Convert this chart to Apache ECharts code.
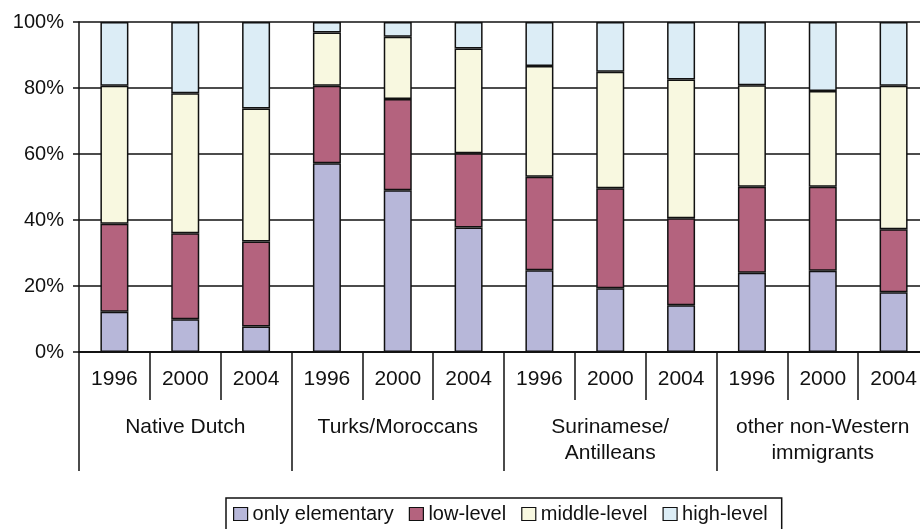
<!DOCTYPE html>
<html>
<head>
<meta charset="utf-8">
<script src="https://cdn.jsdelivr.net/npm/echarts@6/dist/echarts.min.js"></script>
<style>
  html, body { margin: 0; padding: 0; background: #fff; }
  #chart { width: 920px; height: 529px; }
</style>
</head>
<body>
<div id="chart"></div>
<script>
// year of each bar, 12 bars in 4 groups
var years = ['1996', '2000', '2004', '1996', '2000', '2004', '1996', '2000', '2004', '1996', '2000', '2004'];
var groups = ['Native Dutch', 'Turks/Moroccans', 'Surinamese/\nAntilleans', 'other non-Western\nimmigrants'];
var yTicks = [0, 20, 40, 60, 80, 100];

// shares in %
var onlyElementary = [12.2, 9.9, 7.7, 57.2, 49.0, 37.7, 24.8, 19.3, 14.2, 24.0, 24.6, 18.1];
var lowLevel = [26.7, 26.1, 25.8, 23.5, 27.7, 22.5, 28.3, 30.3, 26.3, 26.1, 25.5, 19.1];
var middleLevel = [41.8, 42.4, 40.3, 16.1, 18.8, 31.8, 33.6, 35.3, 42.1, 30.7, 29.0, 43.5];
var highLevel = [19.3, 21.6, 26.2, 3.2, 4.5, 8.0, 13.3, 15.1, 17.4, 19.2, 20.9, 19.3];

var FONT = '"Liberation Sans", Arial, sans-serif';
var INK = '#111';

function bar(name, data, color) {
  return {
    name: name,
    type: 'bar',
    stack: 'total',
    barWidth: 28,
    data: data,
    itemStyle: {
      color: color,
      borderColor: INK,
      borderWidth: 1.5
    }
  };
}

var chart = echarts.init(document.getElementById('chart'));
chart.setOption({
  backgroundColor: '#fff',
  animation: false,
  textStyle: { fontFamily: FONT },
  grid: {
    left: 79,
    top: 22,
    width: 850,   // plot runs past the right edge of the picture
    height: 330,
    outerBoundsMode: 'none',
    containLabel: false
  },
  legend: {
    left: 226,
    top: 498,
    padding: [6, 14, 8, 7],
    itemWidth: 14,
    itemHeight: 13,
    itemGap: 15,
    icon: 'rect',
    borderColor: INK,
    borderWidth: 1.5,
    itemStyle: { borderColor: INK, borderWidth: 1.2 },
    textStyle: { fontSize: 20, color: INK, fontFamily: FONT },
    data: ['only elementary', 'low-level', 'middle-level', 'high-level']
  },
  xAxis: [{
    type: 'category',
    data: years,
    position: 'bottom',
    axisLine: { show: true, lineStyle: { color: INK, width: 1.5 } },
    axisTick: { show: true, interval: 0, length: 48, lineStyle: { color: INK, width: 1.5 } },
    axisLabel: {
      interval: 0,
      margin: 17,
      fontSize: 21,
      lineHeight: 21,
      color: INK,
      fontFamily: FONT
    },
    splitLine: { show: false }
  }, {
    type: 'category',
    data: groups,
    position: 'bottom',
    axisLine: { show: true, lineStyle: { color: INK, width: 1.5 } },
    axisTick: { show: true, interval: 0, length: 119, lineStyle: { color: INK, width: 1.5 } },
    axisLabel: {
      interval: 0,
      margin: 62,
      fontSize: 21,
      lineHeight: 26,
      verticalAlign: 'top',
      color: INK,
      fontFamily: FONT
    },
    splitLine: { show: false }
  }],
  yAxis: {
    type: 'value',
    min: yTicks[0],
    max: yTicks[yTicks.length - 1],
    interval: 20,
    axisLine: { show: true, lineStyle: { color: INK, width: 1.5 } },
    axisTick: { show: true, length: 6, lineStyle: { color: INK, width: 1.5 } },
    axisLabel: {
      formatter: '{value}%',
      margin: 15,
      fontSize: 20,
      color: INK,
      fontFamily: FONT
    },
    splitLine: { lineStyle: { color: INK, width: 1.5 } }
  },
  series: [
    bar('only elementary', onlyElementary, '#b7b7d9'),
    bar('low-level', lowLevel, '#b4637e'),
    bar('middle-level', middleLevel, '#f8f8e0'),
    bar('high-level', highLevel, '#dcedf6')
  ]
});
</script>
</body>
</html>
